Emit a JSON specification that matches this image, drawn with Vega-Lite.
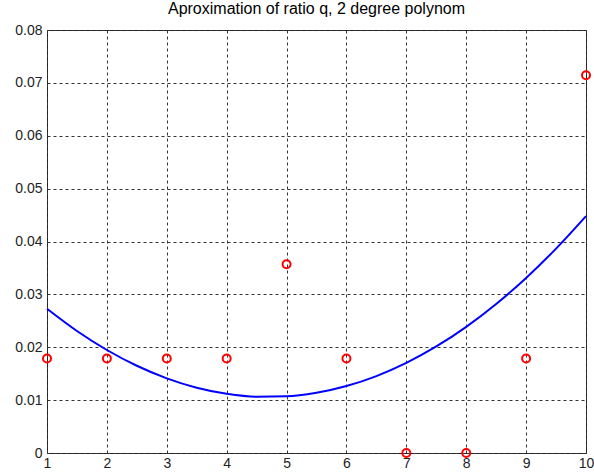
{
  "$schema": "https://vega.github.io/schema/vega-lite/v6.json",
  "autosize": "none",
  "width": 539,
  "height": 423,
  "padding": {"left": 47, "top": 30, "right": 8, "bottom": 23},
  "background": "white",
  "title": {"text": "Aproximation of ratio q, 2 degree polynom", "font": "Liberation Sans", "fontSize": 16, "fontWeight": "normal", "color": "black", "offset": 6},
  "config": {
    "view": {"stroke": "#222222", "strokeWidth": 1},
    "axis": {
      "labelFont": "Liberation Sans", "labelFontSize": 14, "labelColor": "#222222",
      "domain": false, "ticks": false,
      "grid": true, "gridColor": "#333333", "gridDash": [3, 3], "gridWidth": 1, "gridOpacity": 1,
      "title": null
    }
  },
  "datasets": {
    "pts": [
      {"x": 1, "q": 0.017857}, {"x": 2, "q": 0.017857}, {"x": 3, "q": 0.017857},
      {"x": 4, "q": 0.017857}, {"x": 5, "q": 0.035714}, {"x": 6, "q": 0.017857},
      {"x": 7, "q": 0}, {"x": 8, "q": 0}, {"x": 9, "q": 0.017857}, {"x": 10, "q": 0.071429}
    ],
    "fit": [
      {"x": 1, "q": 0.027273}, {"x": 1.5, "q": 0.023072}, {"x": 2, "q": 0.019481},
      {"x": 2.5, "q": 0.016498}, {"x": 3, "q": 0.014123}, {"x": 3.5, "q": 0.012358},
      {"x": 4, "q": 0.011201}, {"x": 4.5, "q": 0.010653}, {"x": 5, "q": 0.010714},
      {"x": 5.5, "q": 0.011384}, {"x": 6, "q": 0.012662}, {"x": 6.5, "q": 0.014549},
      {"x": 7, "q": 0.017045}, {"x": 7.5, "q": 0.020150}, {"x": 8, "q": 0.023864},
      {"x": 8.5, "q": 0.028186}, {"x": 9, "q": 0.033117}, {"x": 9.5, "q": 0.038657},
      {"x": 10, "q": 0.044805}
    ]
  },
  "layer": [
    {
      "data": {"name": "fit"},
      "mark": {"type": "line", "color": "#0000ff", "strokeWidth": 2, "interpolate": "monotone"},
      "encoding": {
        "x": {"field": "x", "type": "quantitative", "scale": {"domain": [1, 10], "nice": false, "zero": false},
              "axis": {"values": [1,2,3,4,5,6,7,8,9,10], "format": "d", "labelPadding": 3, "labelFlush": false}},
        "y": {"field": "q", "type": "quantitative", "scale": {"domain": [0, 0.08], "nice": false},
              "axis": {"values": [0,0.01,0.02,0.03,0.04,0.05,0.06,0.07,0.08], "format": "~g", "labelPadding": 5}}
      }
    },
    {
      "data": {"name": "pts"},
      "mark": {"type": "point", "shape": "circle", "filled": false, "color": "#ff0000", "strokeWidth": 2, "size": 64, "opacity": 1},
      "encoding": {
        "x": {"field": "x", "type": "quantitative"},
        "y": {"field": "q", "type": "quantitative"}
      }
    }
  ]
}
